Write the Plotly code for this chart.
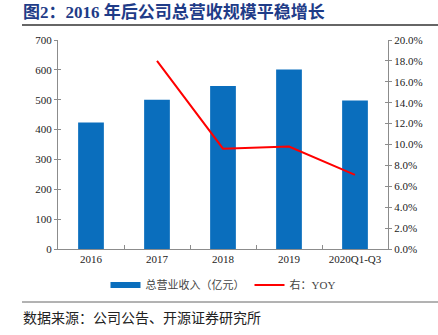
import plotly.graph_objects as go

categories = ["2016", "2017", "2018", "2019", "2020Q1-Q3"]
revenue = [424, 500, 546, 601, 497]
yoy = [None, 0.180, 0.096, 0.098, 0.071]

W, H = 438, 335
L, R, T, B = 58, 50, 40, 86
PW, PH = W - L - R, H - T - B

def px(x):
    return (x - L) / PW

def py(y):
    return (H - B - y) / PH

serif = "Liberation Serif"
cjk = "Noto Sans CJK SC"
mixed = "Liberation Serif, Noto Sans CJK SC"
axis_col = "#8c8c8c"
blue = "#0A6EBD"

fig = go.Figure()
fig.add_trace(go.Bar(x=categories, y=revenue, name="总营业收入（亿元）",
                     marker=dict(color=blue, line=dict(width=0)),
                     width=0.39, yaxis="y", showlegend=False))
# legend entry for bars drawn as a wide band
fig.add_trace(go.Scatter(x=[None], y=[None], name="总营业收入（亿元）", mode="lines",
                         line=dict(color=blue, width=6), yaxis="y"))
fig.add_trace(go.Scatter(x=categories, y=yoy, name="右：YOY", mode="lines",
                         line=dict(color="#FF0000", width=2), yaxis="y2"))
# helper traces to establish inside-tick overlay axes
fig.add_trace(go.Scatter(x=categories, y=revenue, mode="none", showlegend=False,
                         hoverinfo="skip", yaxis="y3"))
fig.add_trace(go.Scatter(x=categories, y=yoy, mode="none", showlegend=False,
                         hoverinfo="skip", yaxis="y4"))

tickfont = dict(family=serif, size=11, color="#222")

fig.update_layout(
    width=W, height=H,
    margin=dict(l=L, r=R, t=T, b=B),
    paper_bgcolor="white", plot_bgcolor="white",
    xaxis=dict(type="category", showline=True, linecolor=axis_col, linewidth=1,
               ticks="inside", tickson="boundaries", ticklen=4, tickcolor=axis_col,
               tickfont=tickfont, showgrid=False, zeroline=False),
    yaxis=dict(range=[0, 700], dtick=100, showline=True, linecolor=axis_col,
               linewidth=1, ticks="outside", ticklen=3, tickcolor=axis_col,
               tickfont=tickfont, showgrid=False, zeroline=False),
    yaxis2=dict(range=[0, 0.2], dtick=0.02, tickformat=".1%", overlaying="y",
                side="right", showline=True, linecolor=axis_col, linewidth=1,
                ticks="outside", ticklen=3, tickcolor=axis_col, tickfont=tickfont,
                showgrid=False, zeroline=False),
    yaxis3=dict(range=[0, 700], dtick=100, overlaying="y", side="left",
                ticks="inside", ticklen=3, tickcolor=axis_col, showticklabels=False,
                showline=False, showgrid=False, zeroline=False),
    yaxis4=dict(range=[0, 0.2], dtick=0.02, overlaying="y", side="right",
                ticks="inside", ticklen=3, tickcolor=axis_col, showticklabels=False,
                showline=False, showgrid=False, zeroline=False),
    legend=dict(orientation="h", x=0.5, xanchor="center", y=py(285), yanchor="middle",
                font=dict(family=mixed, size=11, color="#444"), itemwidth=30,
                bgcolor="rgba(0,0,0,0)"),
    showlegend=True,
)

fig.add_annotation(text="<b>图2：2016 年后公司总营收规模平稳增长</b>", xref="paper", yref="paper",
                   x=px(21), y=py(12), xanchor="left", yanchor="middle", showarrow=False,
                   font=dict(family=mixed, size=17, color="#1F3C88"))
fig.add_annotation(text="数据来源：公司公告、开源证券研究所", xref="paper", yref="paper",
                   x=px(21), y=py(317), xanchor="left", yanchor="middle", showarrow=False,
                   font=dict(family=cjk, size=14, color="#222"))
fig.add_shape(type="line", xref="paper", yref="paper", x0=px(22), x1=px(438),
              y0=py(25), y1=py(25), line=dict(color="#333", width=1.5))
fig.add_shape(type="line", xref="paper", yref="paper", x0=px(22), x1=px(438),
              y0=py(302), y1=py(302), line=dict(color="#666", width=1))

fig.write_html("out.html")
